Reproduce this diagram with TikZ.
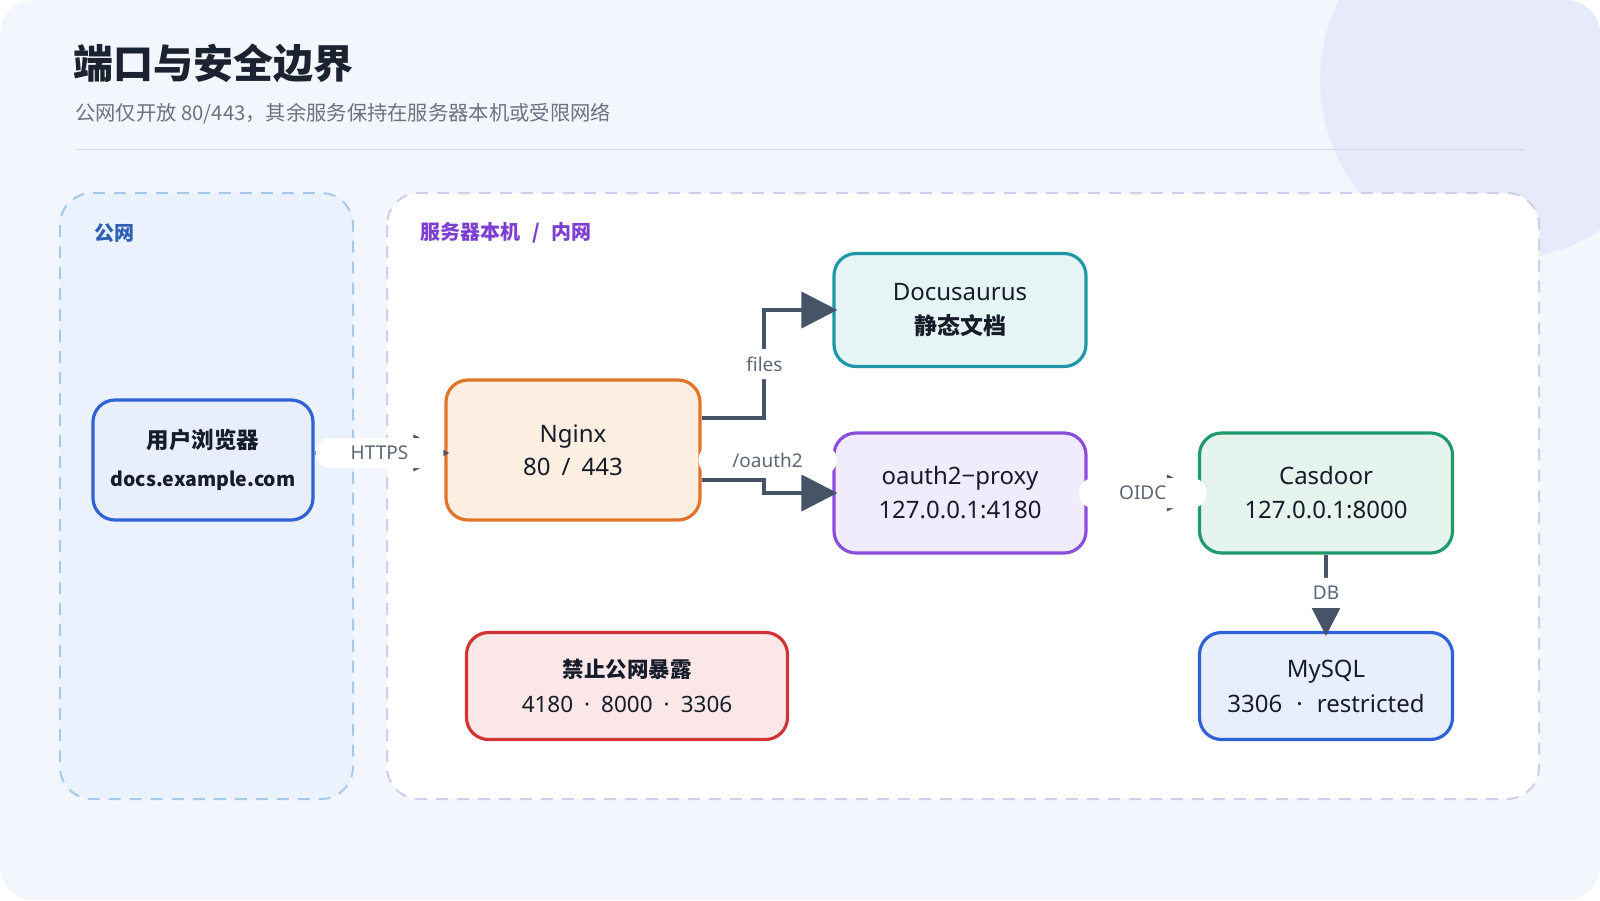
\documentclass[tikz,border=0pt]{standalone}
\usepackage{fontspec}
\setmainfont{Noto Sans}
\newfontfamily\cjk{Noto Sans CJK SC}
\usetikzlibrary{arrows.meta,calc}
\definecolor{bgc}{HTML}{F3F6FC}
\definecolor{circc}{HTML}{E7EAFA}
\definecolor{rulec}{HTML}{D3D8E2}
\definecolor{titlec}{HTML}{1B2230}
\definecolor{subc}{HTML}{6B7280}
\definecolor{pubB}{HTML}{A8C9EA}
\definecolor{pubF}{HTML}{EAF3FD}
\definecolor{pubT}{HTML}{2D5FB4}
\definecolor{srvB}{HTML}{CDD0E8}
\definecolor{srvT}{HTML}{7C3FD0}
\definecolor{blueB}{HTML}{2F62D4}
\definecolor{blueF}{HTML}{E9EFFA}
\definecolor{orB}{HTML}{E0742A}
\definecolor{orF}{HTML}{FDEEE2}
\definecolor{tealB}{HTML}{1E98A9}
\definecolor{tealF}{HTML}{E5F4F4}
\definecolor{purB}{HTML}{8B4FDC}
\definecolor{purF}{HTML}{F1ECFC}
\definecolor{grnB}{HTML}{1E9A6C}
\definecolor{grnF}{HTML}{E6F4EE}
\definecolor{redB}{HTML}{CF3535}
\definecolor{redF}{HTML}{FBE7E7}
\definecolor{txt}{HTML}{161C2A}
\definecolor{edgec}{HTML}{475467}
\definecolor{lblc}{HTML}{5D6675}
\newcommand{\mdot}[1]{\hspace{#1}·\hspace{#1}}
\begin{document}
\begin{tikzpicture}[x=1pt,y=-1pt,
  zone/.style={rounded corners=32pt, line width=2pt, dash pattern=on 12pt off 9pt},
  box/.style={rounded corners=22pt, line width=3.2pt, align=center, text=txt, inner sep=0pt},
  arr/.style={draw=edgec, line width=4pt, -{Triangle[length=36pt,width=36pt]}, shorten >=-5pt},
  lbl/.style={fill=white, rounded corners=15pt, minimum width=128pt, minimum height=30pt,
    inner xsep=34pt, inner ysep=0pt, text=lblc, font=\fontsize{19}{22}\selectfont}
]
\useasboundingbox (0,0) rectangle (1600,900);
\fill[white] (0,0) rectangle (1600,900);
\begin{scope}
  \clip[rounded corners=34pt] (0,0) rectangle (1600,900);
  \fill[bgc] (0,0) rectangle (1600,900);
  \fill[circc] (1500,80) circle (180);
\end{scope}
% title
\node[anchor=west, inner sep=0pt, text=titlec, font=\cjk\bfseries\fontsize{40}{46}\selectfont] (title) at (73,63) {端口与安全边界};
\node[anchor=west, inner sep=0pt, text=subc, font=\cjk\fontsize{20.3}{24}\selectfont] (sub) at (75,114) {公网仅开放 80/443，其余服务保持在服务器本机或受限网络};
\draw[rulec, line width=1pt] (76,149) -- (1525,149);
% zones
\draw[zone, draw=pubB, fill=pubF] (60,193) rectangle (353,799);
\draw[zone, draw=srvB, fill=white] (387,193) rectangle (1539,799);
\node[anchor=west, inner sep=0pt, text=pubT, font=\cjk\bfseries\fontsize{20}{24}\selectfont] (publ) at (94,233) {公网};
\node[anchor=west, inner sep=0pt, text=srvT, font=\cjk\bfseries\fontsize{20}{24}\selectfont] (srvl) at (420,233) {服务器本机\hspace{12pt}/\hspace{12pt}内网};
% nodes
\node[box, draw=blueB, fill=blueF, minimum width=220pt, minimum height=120pt, font=\fontsize{20}{38}\selectfont] (browser) at (203,460)
  {{\cjk\bfseries\fontsize{22.5}{38}\selectfont 用户浏览器}\\{\cjk\bfseries\fontsize{19.5}{38}\selectfont docs.example.com}};
\node[box, draw=orB, fill=orF, minimum width=254pt, minimum height=140pt, font=\fontsize{24}{33}\selectfont] (nginx) at (573,450)
  {Nginx\\80\hspace{11pt}/\hspace{11pt}443};
\node[box, draw=tealB, fill=tealF, minimum width=252pt, minimum height=113pt, font=\fontsize{24}{34}\selectfont] (docs) at (960,310)
  {Docusaurus\\{\cjk\bfseries\fontsize{23}{34}\selectfont 静态文档}};
\node[box, draw=purB, fill=purF, minimum width=252pt, minimum height=120pt, font=\fontsize{24}{34}\selectfont] (proxy) at (960,493)
  {oauth2−proxy\\127.0.0.1:4180};
\node[box, draw=grnB, fill=grnF, minimum width=253pt, minimum height=120pt, font=\fontsize{24}{34}\selectfont] (casdoor) at (1326,493)
  {Casdoor\\127.0.0.1:8000};
\node[box, draw=blueB, fill=blueF, minimum width=253pt, minimum height=107pt, font=\fontsize{24}{35}\selectfont] (mysql) at (1326,686)
  {MySQL\\3306\mdot{14pt}restricted};
\node[box, draw=redB, fill=redF, minimum width=321pt, minimum height=107pt, font=\fontsize{22.5}{35}\selectfont] (forbid) at (627,686)
  {{\cjk\bfseries\fontsize{21.5}{35}\selectfont 禁止公网暴露}\\4180\mdot{11pt}8000\mdot{11pt}3306};
% connectors
\draw[arr] ($(browser.east |- nginx.west)+(0,3)$) -- node[lbl] (lhttps) {HTTPS} ($(nginx.west)+(0,3)$);
\draw[arr] ($(nginx.east)+(0,-32)$) -| node[lbl, pos=0.75] (lfiles) {files} ($(docs.west)+(-68,0)$) -- (docs.west);
\draw[arr] ($(nginx.east)+(0,30)$) -| ($(proxy.west)+(-68,0)$) -- (proxy.west);
\node[lbl] (loauth) at ($(nginx.east)+(66,10)$) {/oauth2};
\draw[arr] (proxy.east) -- node[lbl] (loidc) {OIDC} (casdoor.west);
\draw[arr] (casdoor.south) -- node[lbl] (ldb) {DB} (mysql.north);
\end{tikzpicture}
\end{document}
